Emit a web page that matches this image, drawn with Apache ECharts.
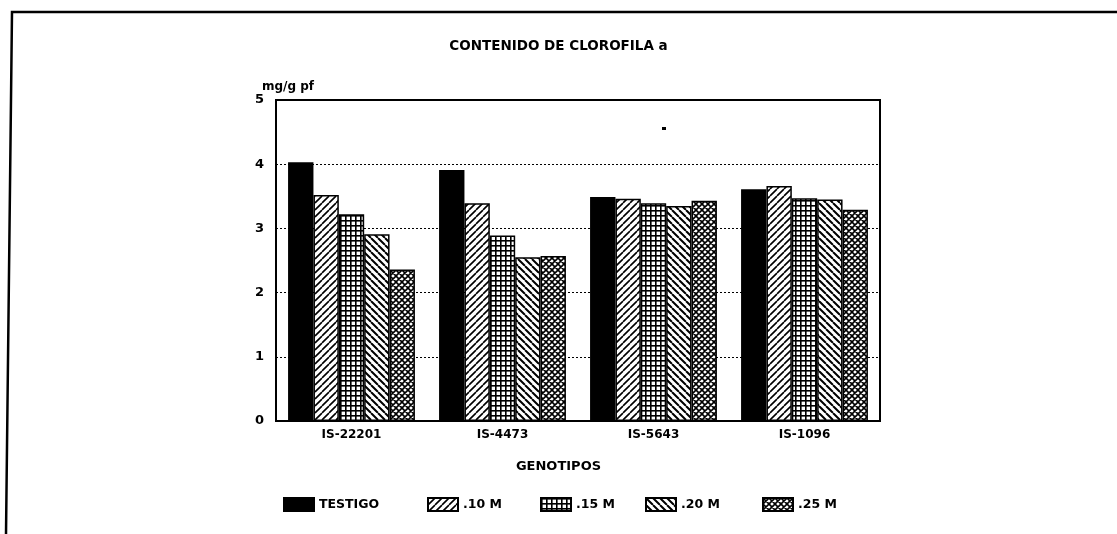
<!DOCTYPE html>
<html>
<head>
<meta charset="utf-8">
<script src="https://cdn.jsdelivr.net/npm/echarts@6/dist/echarts.min.js"></script>
<style>
html,body{margin:0;padding:0;background:#fff;}
#chart{width:1117px;height:534px;}
</style>
</head>
<body>
<div id="chart"></div>
<script>
const titleText = 'CONTENIDO DE CLOROFILA a';
const xAxisTitle = 'GENOTIPOS';
const yAxisTitle = 'mg/g pf';
const categories = ['IS-22201', 'IS-4473', 'IS-5643', 'IS-1096'];
const seriesNames = ['TESTIGO', '.10 M', '.15 M', '.20 M', '.25 M'];
const testigo = [4.03, 3.91, 3.49, 3.61];
const m10 = [3.52, 3.39, 3.46, 3.66];
const m15 = [3.22, 2.89, 3.39, 3.47];
const m20 = [2.91, 2.55, 3.35, 3.45];
const m25 = [2.36, 2.57, 3.43, 3.29];
const yTicks = [0, 1, 2, 3, 4, 5];

function makePattern(kind) {
  const s = kind === 'grid' ? 5 : (kind === 'cross' ? 6 : 7);
  const c = document.createElement('canvas');
  c.width = s; c.height = s;
  const g = c.getContext('2d');
  g.fillStyle = '#fff';
  g.fillRect(0, 0, s, s);
  g.strokeStyle = '#000';
  if (kind === 'fwd') {
    g.lineWidth = 1.6;
    g.beginPath();
    for (let k = -1; k <= 1; k++) { g.moveTo(k * s, s); g.lineTo(k * s + s, 0); }
    g.stroke();
  } else if (kind === 'back') {
    g.lineWidth = 2;
    g.beginPath();
    for (let k = -1; k <= 1; k++) { g.moveTo(k * s, 0); g.lineTo(k * s + s, s); }
    g.stroke();
  } else if (kind === 'grid') {
    g.fillStyle = '#000';
    g.fillRect(0, 0, s, 1.6);
    g.fillRect(0, 0, 1.6, s);
  } else if (kind === 'cross') {
    g.lineWidth = 1.6;
    g.beginPath();
    for (let k = -1; k <= 1; k++) {
      g.moveTo(k * s, s); g.lineTo(k * s + s, 0);
      g.moveTo(k * s, 0); g.lineTo(k * s + s, s);
    }
    g.stroke();
  }
  return { image: c, repeat: 'repeat' };
}

const fills = ['#000', makePattern('fwd'), makePattern('grid'), makePattern('back'), makePattern('cross')];
const values = [testigo, m10, m15, m20, m25];
const font = '"DejaVu Sans", "Liberation Sans", sans-serif';
const legendLefts = [283, 427, 540, 645, 762];

const chart = echarts.init(document.getElementById('chart'), null, { renderer: 'canvas' });
chart.setOption({
  backgroundColor: '#fff',
  animation: false,
  title: [
    { text: titleText, left: 'center', top: 34,
      textStyle: { fontFamily: font, fontWeight: 'bold', fontSize: 13.5, color: '#000' } },
    { text: xAxisTitle, left: 'center', top: 455,
      textStyle: { fontFamily: font, fontWeight: 'bold', fontSize: 13, color: '#000' } }
  ],
  legend: seriesNames.map((n, i) => ({
    left: legendLefts[i], top: 497, padding: 0,
    itemWidth: 30, itemHeight: 13, icon: 'rect',
    data: [n],
    textStyle: { fontFamily: font, fontWeight: 'bold', fontSize: 12.5, color: '#000' }
  })),
  grid: { left: 276, right: 237, top: 100, bottom: 113, show: true, borderColor: '#000', borderWidth: 2, containLabel: false },
  xAxis: {
    type: 'category', data: categories,
    axisLine: { show: true, lineStyle: { color: '#000', width: 2 } },
    axisTick: { show: false },
    axisLabel: { fontFamily: font, fontWeight: 'bold', fontSize: 12, color: '#000', margin: 8 }
  },
  yAxis: {
    type: 'value', min: 0, max: 5, interval: 1,
    name: yAxisTitle, nameLocation: 'end', nameGap: 7,
    nameTextStyle: { fontFamily: font, fontWeight: 'bold', fontSize: 12, color: '#000', align: 'left', padding: [0, 0, 0, -14] },
    axisLine: { show: true, lineStyle: { color: '#000', width: 2 } },
    axisTick: { show: false },
    axisLabel: { fontFamily: font, fontWeight: 'bold', fontSize: 13, color: '#000', margin: 12,
      formatter: v => yTicks.includes(v) ? String(v) : '' },
    splitLine: { show: true, lineStyle: { color: '#000', type: [2, 2], width: 1 } }
  },
  series: seriesNames.map((n, i) => ({
    name: n, type: 'bar', data: values[i],
    barGap: '0%', barCategoryGap: '16%',
    itemStyle: { color: fills[i], borderColor: '#000', borderWidth: 1.5 }
  })),
  graphic: [
    { type: 'polyline', shape: { points: [[6, 534], [12, 12], [1117, 12]] },
      style: { stroke: '#000', lineWidth: 2.5, fill: null }, silent: true },
    { type: 'rect', shape: { x: 662, y: 127, width: 4, height: 3 }, style: { fill: '#000' }, silent: true }
  ]
});
</script>
</body>
</html>
